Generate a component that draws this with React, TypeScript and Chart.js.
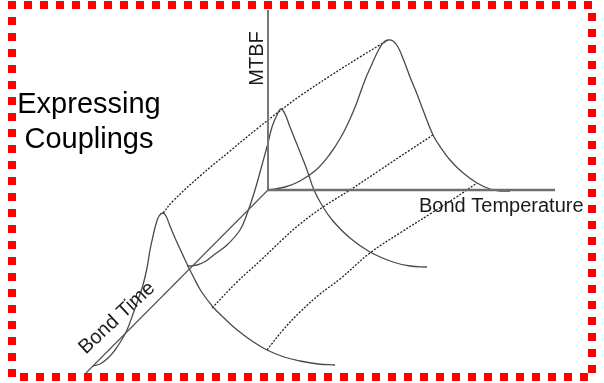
import React, { useEffect, useRef } from 'react';
import { Chart, registerables } from 'chart.js';

Chart.register(...registerables);

// ---- data (diagram coordinates, x to the right, y downward) ----
const mtbfAxis: [number, number][] = [[268, 10], [268, 190]];
const temperatureAxis: [number, number][] = [[268, 190], [555, 190]];
const timeAxis: [number, number][] = [[268, 190], [86, 373]];

const curveBack: [number, number][] = [
  [268, 190], [285, 187], [300, 181], [316, 170], [330, 154], [341, 137], [350, 119],
  [357, 102], [365, 80], [372, 64], [378, 51], [383, 43], [388, 40], [393, 41], [398, 47],
  [404, 61], [410, 77], [417, 94], [423, 110], [433, 135], [441, 148], [450, 160],
  [462, 172], [477, 183], [490, 189], [500, 191], [510, 191],
];
const curveMiddle: [number, number][] = [
  [187, 266], [197, 265], [206, 261], [215, 254], [227, 245], [240, 230], [247, 214],
  [255, 190], [262, 165], [268, 143], [272, 127], [277, 115], [281, 109], [285, 114],
  [290, 127], [296, 142], [302, 157], [307, 170], [314, 190], [323, 207], [333, 221],
  [350, 238], [370, 252], [393, 262], [410, 266], [427, 267],
];
const curveFront: [number, number][] = [
  [93, 366], [100, 364], [108, 358], [115, 350], [121, 341], [127, 330], [133, 314],
  [138, 300], [143, 285], [147, 268], [150, 250], [153, 236], [156, 224], [159, 216],
  [163, 213], [166, 216], [170, 226], [175, 238], [181, 251], [187, 264], [194, 278],
  [201, 291], [213, 307], [224, 318], [236, 329], [252, 341], [267, 350], [284, 357],
  [300, 361], [318, 364], [335, 365],
];
const ridgePeak: [number, number][] = [
  [163, 213], [173, 201], [200, 176], [230, 151], [258, 128], [281, 110], [300, 96],
  [330, 76], [360, 57], [388, 40],
];
const ridgeMiddle: [number, number][] = [
  [212, 308], [237, 282], [260, 261], [282, 240], [300, 224], [323, 207], [350, 190],
  [380, 170], [410, 150], [433, 135],
];
const ridgeLow: [number, number][] = [
  [267, 350], [283, 330], [300, 312], [320, 294], [340, 279], [370, 253], [400, 233],
  [430, 214], [455, 198], [477, 183],
];

const titleLines = ['Expressing', 'Couplings'];
const mtbfLabel = 'MTBF';
const temperatureLabel = 'Bond Temperature';
const timeLabel = 'Bond Time';

const toPoints = (arr: [number, number][]) => arr.map(([x, y]) => ({ x, y }));

const decorPlugin = {
  id: 'decor',
  afterDraw(chart: any) {
    const ctx: CanvasRenderingContext2D = chart.ctx;
    ctx.save();
    // texts
    ctx.fillStyle = '#000';
    ctx.font = '29px "Liberation Sans", Arial, sans-serif';
    ctx.textAlign = 'center';
    ctx.textBaseline = 'alphabetic';
    ctx.fillText(titleLines[0], 89, 113);
    ctx.fillText(titleLines[1], 89, 148);

    ctx.fillStyle = '#1a1a1a';
    ctx.font = '20px "Liberation Sans", Arial, sans-serif';
    ctx.textAlign = 'left';
    ctx.fillText(temperatureLabel, 419, 212);

    ctx.save();
    ctx.translate(263, 58.5);
    ctx.rotate(-Math.PI / 2);
    ctx.textAlign = 'center';
    ctx.textBaseline = 'alphabetic';
    ctx.fillText(mtbfLabel, 0, 0);
    ctx.restore();

    ctx.save();
    ctx.translate(117, 318);
    ctx.rotate(-43 * Math.PI / 180);
    ctx.textAlign = 'center';
    ctx.textBaseline = 'middle';
    ctx.fillText(timeLabel, 0, 0);
    ctx.restore();

    // red dotted frame
    ctx.fillStyle = '#ff0000';
    for (let x = 8; x <= 584; x += 16) ctx.fillRect(x, 1, 8, 8);
    for (let y = 1; y <= 369; y += 16) ctx.fillRect(8, y, 8, 8);
    for (let x = 20; x <= 580; x += 16) ctx.fillRect(x, 373, 8, 8);
    for (let y = 13; y <= 365; y += 16) ctx.fillRect(588, y, 8, 8);
    ctx.restore();
  },
};

export default function App() {
  const ref = useRef<HTMLCanvasElement | null>(null);
  useEffect(() => {
    if (!ref.current) return;
    const curve = (d: [number, number][]) => ({
      data: toPoints(d), showLine: true, pointRadius: 0, borderColor: '#4a4a4a',
      borderWidth: 1.3, tension: 0.4, fill: false,
    });
    const ridge = (d: [number, number][]) => ({
      data: toPoints(d), showLine: true, pointRadius: 0, borderColor: '#222',
      borderWidth: 1.3, borderDash: [2, 1.5], tension: 0.4, fill: false,
    });
    const chart = new Chart(ref.current, {
      type: 'scatter',
      data: {
        datasets: [
          { data: toPoints(mtbfAxis), showLine: true, pointRadius: 0, borderColor: '#777', borderWidth: 2, tension: 0 },
          { data: toPoints(temperatureAxis), showLine: true, pointRadius: 0, borderColor: '#6e6e6e', borderWidth: 2.5, tension: 0 },
          { data: toPoints(timeAxis), showLine: true, pointRadius: 0, borderColor: '#555', borderWidth: 1.2, tension: 0 },
          curve(curveBack),
          curve(curveMiddle),
          curve(curveFront),
          ridge(ridgePeak),
          ridge(ridgeMiddle),
          ridge(ridgeLow),
        ] as any,
      },
      options: {
        animation: false,
        responsive: false,
        maintainAspectRatio: false,
        devicePixelRatio: 1,
        layout: { padding: 0 },
        plugins: { legend: { display: false }, tooltip: { enabled: false } },
        scales: {
          x: { type: 'linear', min: 0, max: 604, display: false },
          y: { type: 'linear', min: 0, max: 383, reverse: true, display: false },
        },
      },
      plugins: [decorPlugin],
    });
    return () => chart.destroy();
  }, []);
  return (
    <div style={{ position: 'fixed', left: 0, top: 0, width: 604, height: 383, background: '#fff' }}>
      <canvas ref={ref} width={604} height={383} style={{ display: 'block' }} />
    </div>
  );
}
